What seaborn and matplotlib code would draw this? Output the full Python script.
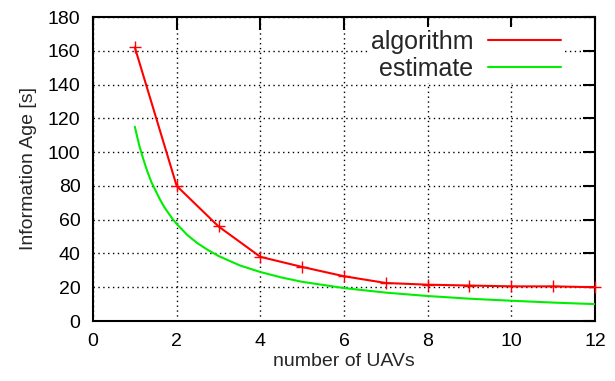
import matplotlib
matplotlib.use("Agg")
import matplotlib.pyplot as plt
import seaborn as sns
import pandas as pd
from matplotlib.lines import Line2D

# data
alg_x = [1, 2, 3, 4, 5, 6, 7, 8, 9, 10, 11, 12]
alg_y = [162, 80, 56, 38, 32, 26.5, 22.5, 21.5, 21, 20.5, 20.5, 20]
est_x = [1, 1.1, 1.2, 1.3, 1.4, 1.5, 1.6, 1.7, 1.8, 1.9, 2, 2.25, 2.5, 2.75, 3,
         3.5, 4, 4.5, 5, 6, 7, 8, 9, 10, 11, 12]
est_y = [115, 104.5, 96, 88.5, 82, 77, 72, 67.6, 64, 60.5, 57.5, 51, 46, 42, 38.5,
         33, 29, 25.8, 23.2, 19.5, 16.8, 14.8, 13.2, 12, 10.9, 10]
x_ticks = [0, 2, 4, 6, 8, 10, 12]
y_ticks = [0, 20, 40, 60, 80, 100, 120, 140, 160, 180]
labels = ["algorithm", "estimate"]

sns.set_style("white")
plt.rcParams['font.family'] = ['Liberation Sans', 'DejaVu Sans']

fig = plt.figure(figsize=(6.15, 3.81), dpi=100)
ax = fig.add_axes([93/615, 60/381, 502/615, 304/381])

alg = pd.DataFrame({"x": alg_x, "y": alg_y})
est = pd.DataFrame({"x": est_x, "y": est_y})

sns.lineplot(data=est, x="x", y="y", ax=ax, color="#00ee00", lw=1.5, zorder=3)
sns.lineplot(data=alg, x="x", y="y", ax=ax, color="#ff0000", lw=1.5,
             marker="+", markersize=9, markeredgewidth=1.0,
             markeredgecolor="#ff0000", zorder=4, clip_on=False)

ax.set_xlim(0, 12)
ax.set_ylim(0, 180)
ax.set_xticks(x_ticks)
ax.set_yticks(y_ticks)
ax.grid(True, color="black", linestyle=(0, (1, 2.5)), linewidth=1.0)
for s in ax.spines.values():
    s.set_linewidth(1.5)
    s.set_color("black")
ax.tick_params(direction="in", length=9, width=1.5, top=True, right=True,
               labelsize=14, pad=9, colors="black")
ax.set_xlabel("number of UAVs", fontsize=14, labelpad=2)
ax.set_ylabel("Information Age [s]", fontsize=14, labelpad=8)

handles = [Line2D([], [], color="#ff0000", lw=1.5),
           Line2D([], [], color="#00ee00", lw=1.5)]
leg = ax.legend(handles, labels, loc="upper right", bbox_to_anchor=(563/615, 1 - 27/381),
                bbox_transform=fig.transFigure, fontsize=18, markerfirst=False,
                frameon=True, framealpha=1, edgecolor="white", handlelength=2.9,
                labelspacing=0.12, handletextpad=0.6, borderpad=0.1, borderaxespad=0)
leg.get_frame().set_linewidth(0)

fig.savefig("out.png", dpi=100)
